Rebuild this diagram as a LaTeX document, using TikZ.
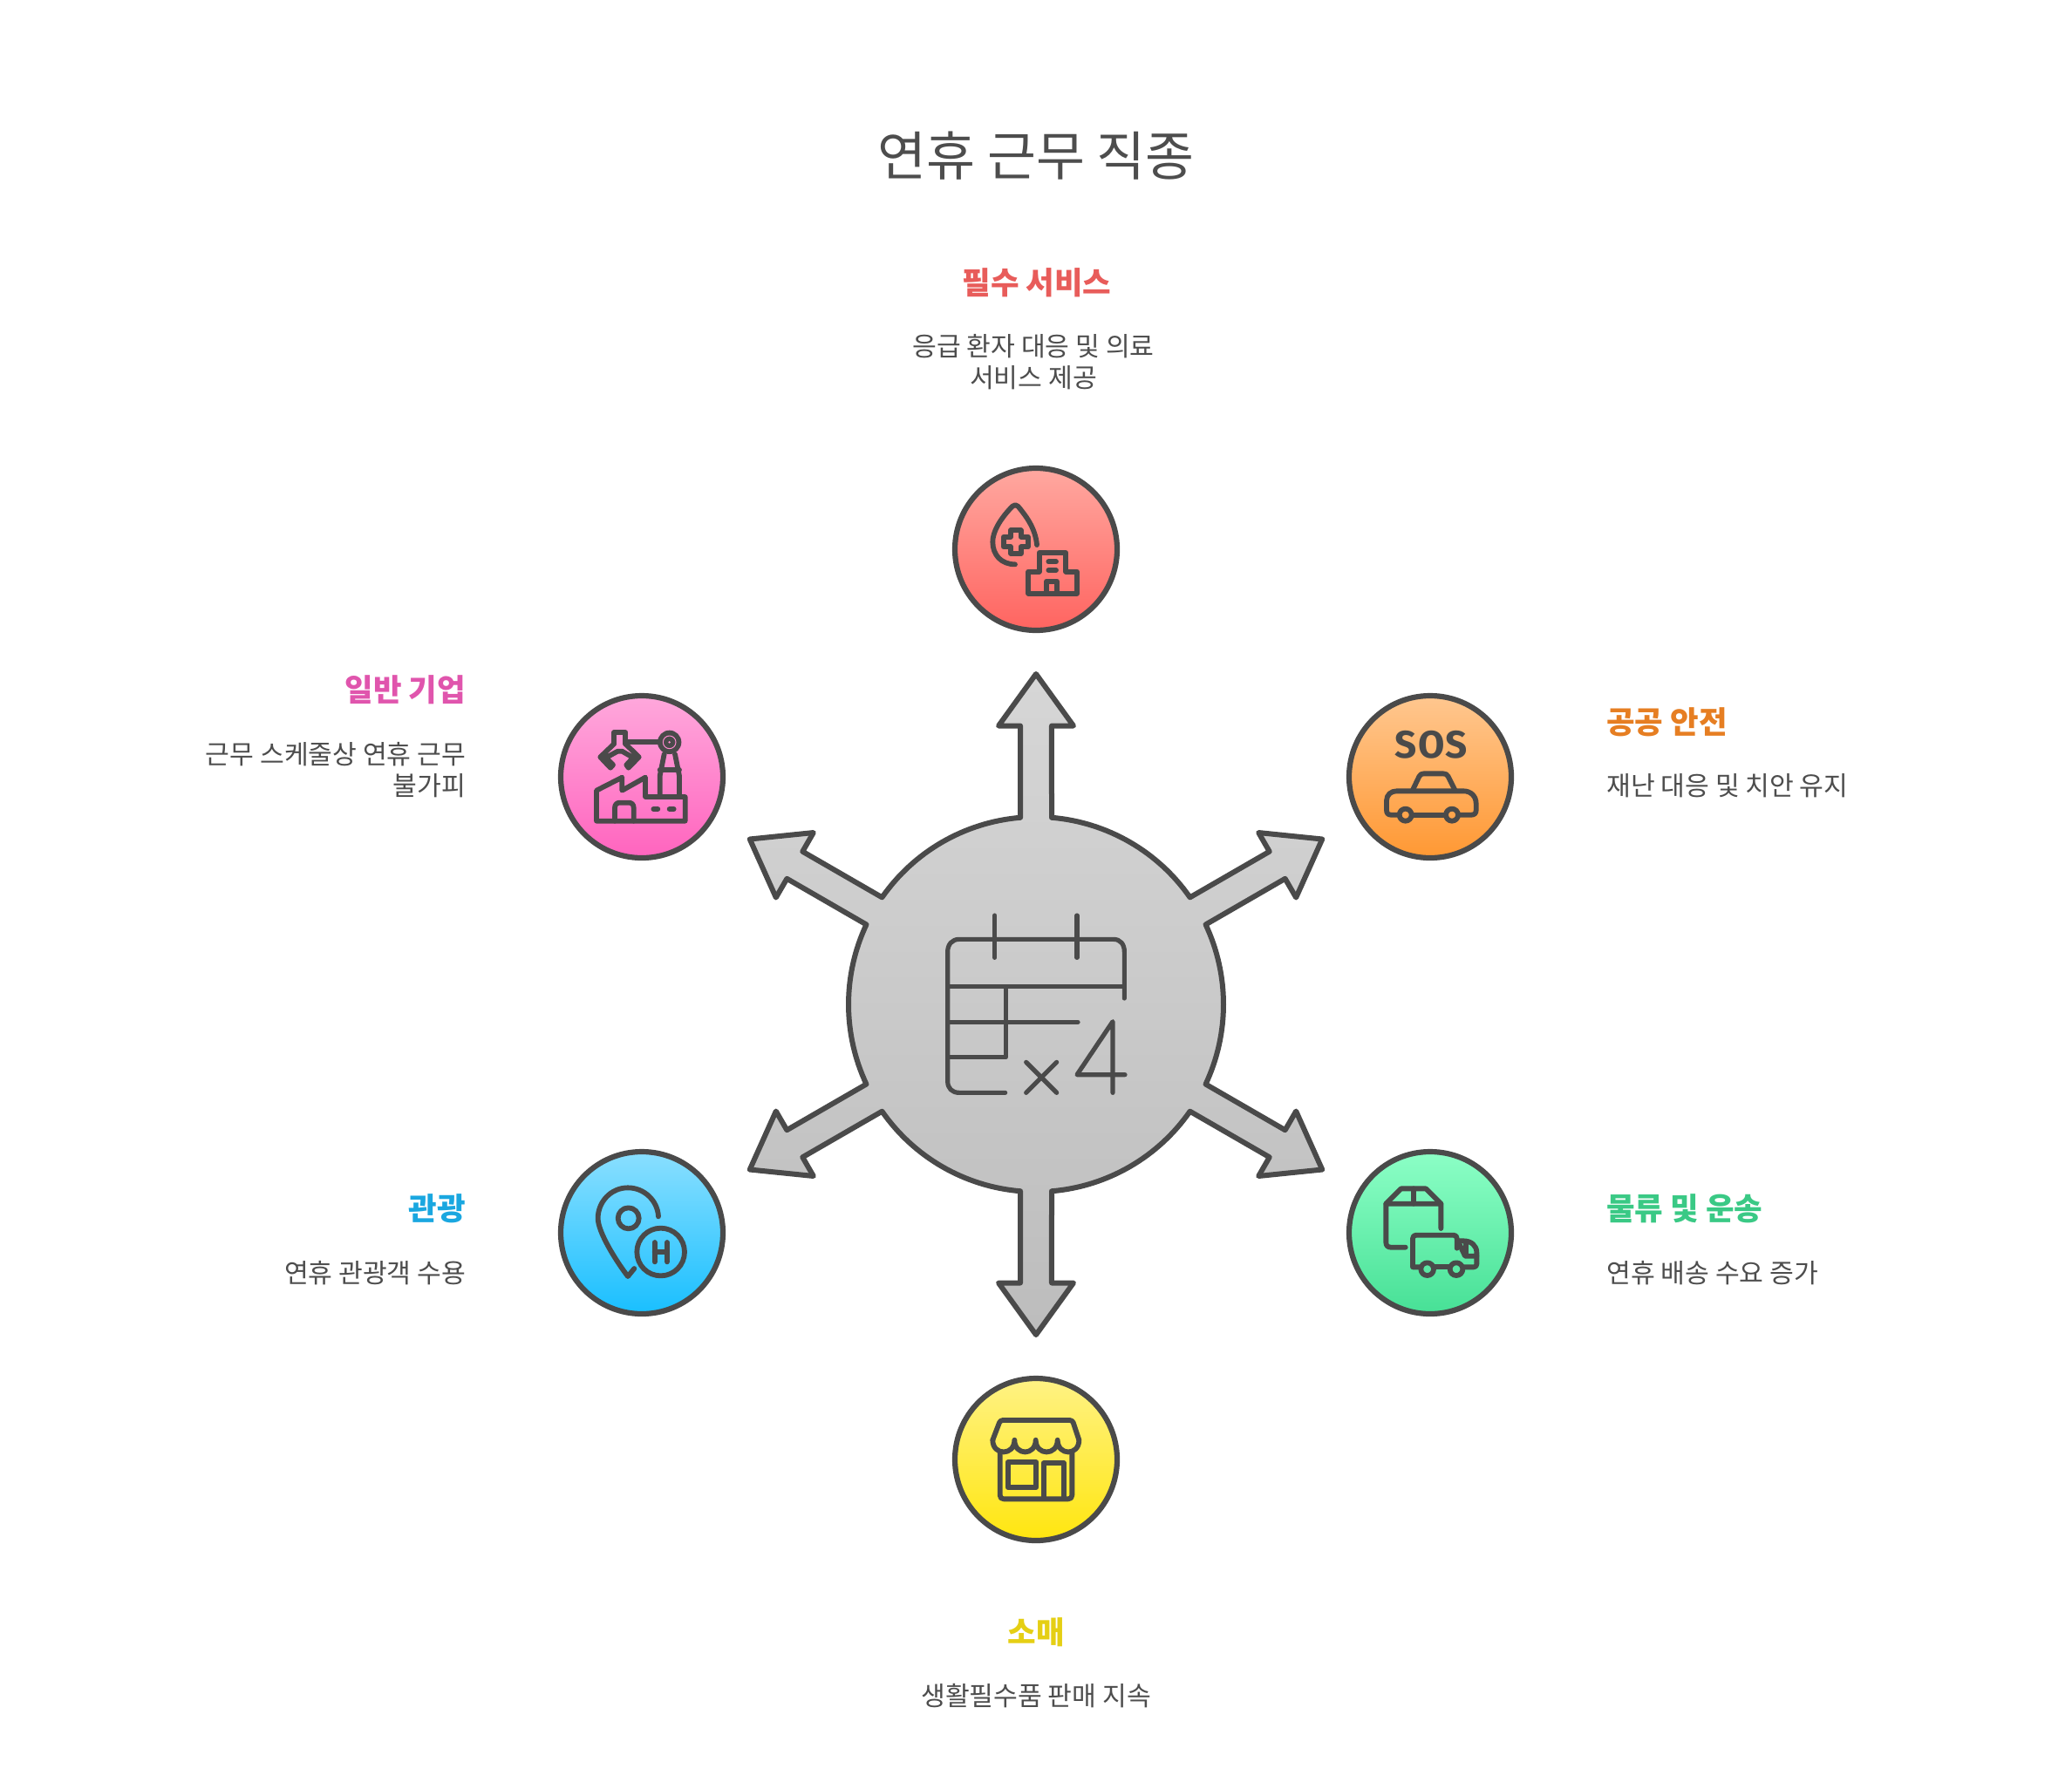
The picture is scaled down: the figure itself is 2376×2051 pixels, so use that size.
\documentclass[tikz,border=0pt]{standalone}
\usepackage{fontspec}
\setmainfont{Noto Sans CJK KR}
\newfontfamily\sosfont[LetterSpace=3]{Fira Sans}
\definecolor{ink}{HTML}{4A4A4A}
\definecolor{txt}{HTML}{4D4D4D}
\definecolor{redA}{HTML}{FFA8A0}\definecolor{redB}{HTML}{FF6460}
\definecolor{oraA}{HTML}{FFC78F}\definecolor{oraB}{HTML}{FF9833}
\definecolor{pnkA}{HTML}{FFA8DC}\definecolor{pnkB}{HTML}{FF64BE}
\definecolor{bluA}{HTML}{8ADFFF}\definecolor{bluB}{HTML}{19BFFF}
\definecolor{grnA}{HTML}{8CFFC6}\definecolor{grnB}{HTML}{47E096}
\definecolor{yelA}{HTML}{FFF284}\definecolor{yelB}{HTML}{FFE60F}
\definecolor{redH}{HTML}{E85C5A}
\definecolor{oraH}{HTML}{E67E22}
\definecolor{pnkH}{HTML}{E055AD}
\definecolor{bluH}{HTML}{1AA7E0}
\definecolor{grnH}{HTML}{3AC985}
\definecolor{yelH}{HTML}{E5CF14}
\definecolor{pnkL}{HTML}{FF8ACF}
\tikzset{
  ball/.style n args={2}{circle,inner sep=0pt,minimum size=93pt,draw=ink,line width=3.1pt,top color=#1,bottom color=#2},
  headtxt/.style={inner sep=0pt,font=\fontsize{17.7}{22}\selectfont\bfseries},
  bodytxt/.style={inner sep=0pt,text=txt,font=\fontsize{15.1}{18}\selectfont},
  iconframe/.style n args={2}{shift={(#1,#2)},x=0.16667pt,y=-0.16667pt},
  icl/.style={draw=ink,line width=2.9pt,line cap=round,line join=round},
  icm/.style={draw=ink,line width=2.6pt,line cap=round,line join=round},
}
\begin{document}
\begin{tikzpicture}[x=0.5pt,y=-0.5pt]
\useasboundingbox (0,0) rectangle (2376,2051);
\fill[white] (0,0) rectangle (2376,2051);
\node[inner sep=0pt,text=txt,font=\fontsize{30.4}{36}\selectfont,anchor=base] (title) at (1188,201) {연휴 근무 직종};

% hub and arrows
\node[circle,inner sep=0pt,minimum size=215pt] (hub) at (1188,1152) {};
\begin{scope}[shift={(hub.center)},y=0.5pt]
\shadedraw[draw=ink,line width=3pt,line join=round,top color=black!16,bottom color=black!26]
  (85.2:215)
  \foreach \a in {90,150,210,270,330,390} {
    -- (\a-4.8:215) -- (\a-3.22:320) -- (\a-7.66:322.4) -- (\a:379)
    -- (\a+7.66:322.4) -- (\a+3.22:320) -- (\a+4.8:215)
    arc[start angle=\a+4.8,delta angle=50.4,radius=215]
  } -- cycle;
\end{scope}

% satellites
\node[ball={redA}{redB}] (ess) at (1188,630) {};
\node[ball={oraA}{oraB}] (pub) at (1640,891) {};
\node[ball={pnkA}{pnkB}] (gen) at (736,891) {};
\node[ball={bluA}{bluB}] (tou) at (736,1414) {};
\node[ball={grnA}{grnB}] (log) at (1640,1414) {};
\node[ball={yelA}{yelB}] (ret) at (1188,1674) {};

% labels
\node[headtxt,text=redH,anchor=base] (essh) at (1189,337) {필수 서비스};
\node[bodytxt,align=center,anchor=base] (essb) at (1185,444) {응급 환자 대응 및 의료\\서비스 제공};
\node[headtxt,text=oraH,anchor=base west] (pubh) at (1842,841) {공공 안전};
\node[bodytxt,anchor=base west] (pubb) at (1842,912) {재난 대응 및 치안 유지};
\node[headtxt,text=pnkH,anchor=base east] (genh) at (534.5,804) {일반 기업};
\node[bodytxt,align=right,anchor=base east] (genb) at (534.5,912) {근무 스케줄상 연휴 근무\\불가피};
\node[headtxt,text=bluH,anchor=base east] (touh) at (534.5,1399) {관광};
\node[bodytxt,anchor=base east] (toub) at (534.5,1471) {연휴 관광객 수용};
\node[headtxt,text=grnH,anchor=base west] (logh) at (1842,1399) {물류 및 운송};
\node[bodytxt,anchor=base west] (logb) at (1842,1471) {연휴 배송 수요 증가};
\node[headtxt,text=yelH,anchor=base] (reth) at (1188,1885) {소매};
\node[bodytxt,anchor=base] (retb) at (1188,1956) {생활필수품 판매 지속};

% main calendar icon
\begin{scope}[iconframe={950}{900}]
\draw[icm] (1018,735) -- (1018,575) .. controls (1018,550) and (1005,532) .. (980,532) -- (450,532)
  .. controls (425,532) and (410,550) .. (410,575) -- (410,1020)
  .. controls (410,1045) and (425,1060) .. (450,1060) -- (608,1060);
\draw[icm] (572,450) -- (572,595);
\draw[icm] (855,450) -- (855,595);
\draw[icm] (410,695) -- (1018,695);
\draw[icm] (610,695) -- (610,938) -- (410,938);
\draw[icm] (410,817) -- (858,817);
\draw[icm] (680,955) -- (785,1060);
\draw[icm] (785,955) -- (680,1060);
\draw[icm] (978,1060) -- (978,815) -- (855,998) -- (1020,998);
\end{scope}

% red icon
\begin{scope}[iconframe={1080}{520}]
\draw[icl] (252,382) .. controls (205,382) and (175,350) .. (175,305) .. controls (175,255) and (225,200) .. (243,182)
  .. controls (250,176) and (256,176) .. (262,182) .. controls (285,210) and (322,255) .. (327,315);
\draw[icl] (237,265) -- (272,265) -- (272,287) -- (296,287) -- (296,322) -- (272,322) -- (272,345) -- (237,345) -- (237,322) -- (212,322) -- (212,287) -- (237,287) -- cycle;
\draw[icl] (298,482) -- (298,407) -- (335,407) -- (335,342) -- (427,342) -- (427,407) -- (465,407) -- (465,482) -- cycle;
\draw[icl] (360,482) -- (360,440) -- (396,440) -- (396,482);
\draw[icl] (367,373) -- (393,373);
\draw[icl] (367,402) -- (393,402);
\end{scope}

% orange icon
\begin{scope}[iconframe={1540}{790}]
\node[inner sep=0pt,text=ink,font=\sosfont\fontsize{22}{26}\selectfont\bfseries,anchor=base] (sos) at (304,237) {SOS};
\draw[icl] (190,434) -- (165,434) .. controls (155,434) and (150,428) .. (150,418) -- (150,385)
  .. controls (150,365) and (165,352) .. (185,352) -- (415,352) .. controls (440,352) and (458,370) .. (458,395)
  -- (458,418) .. controls (458,428) and (452,434) .. (442,434) -- (402,434);
\draw[icl] (240,434) -- (350,434);
\draw[icl] (215,434) circle[radius=21];
\draw[icl] (375,434) circle[radius=21];
\draw[icl] (240,348) -- (262,302) .. controls (266,295) and (270,292) .. (278,292) -- (345,292) .. controls (353,292) and (358,295) .. (362,302) -- (385,348);
\end{scope}

% pink icon
\begin{scope}[iconframe={630}{790}]
\fill[ink] (413,184) circle[radius=41];
\draw[pnkL,line width=0.5pt] (413,184) circle[radius=22];
\fill[pnkL] (413,184) circle[radius=4];
\draw[icl] (265,182) -- (380,182);
\draw[icl] (222,190) -- (222,150) -- (262,150) -- (262,190);
\draw[icl] (222,190) -- (175,235) -- (210,272) -- (219,262) -- (195,237) -- (235,215) -- (250,215) -- (288,237) -- (265,262) -- (272,272) -- (308,235) -- (262,190);
\draw[icl] (395,225) -- (380,300) -- (380,372);
\draw[icl] (432,225) -- (447,300) -- (447,372);
\draw[icl] (380,280) -- (447,280);
\draw[icl] (162,455) -- (162,350) -- (250,305) -- (250,350) -- (330,305) -- (330,372) -- (467,372) -- (467,455) -- cycle;
\draw[icl] (225,455) -- (225,410) .. controls (225,398) and (232,392) .. (242,392) -- (273,392) .. controls (283,392) and (290,398) .. (290,410) -- (290,455);
\draw[icl] (358,414) -- (373,414);
\draw[icl] (413,414) -- (428,414);
\end{scope}

% blue icon
\begin{scope}[iconframe={630}{1310}]
\draw[icl] (375,256) .. controls (372,200) and (325,157) .. (270,157) .. controls (212,157) and (167,205) .. (167,262)
  .. controls (167,310) and (230,410) .. (270,462) -- (292,435);
\draw[icl] (272,262) circle[radius=36];
\draw[icl] (383,378) circle[radius=82];
\draw[icl] (362,345) -- (362,412);
\draw[icl] (405,345) -- (405,412);
\draw[icl] (362,378) -- (405,378);
\end{scope}

% green icon
\begin{scope}[iconframe={1540}{1310}]
\draw[icl] (337,297) -- (337,212) -- (148,212) -- (148,345) .. controls (148,356) and (154,362) .. (165,362) -- (215,362);
\draw[icl] (148,212) -- (200,160) -- (285,160) -- (337,212);
\draw[icl] (243,160) -- (243,212);
\draw[icl] (265,430) -- (240,430) -- (240,332) .. controls (240,324) and (244,320) .. (252,320) -- (380,320) .. controls (388,320) and (392,324) .. (392,332) -- (392,365);
\draw[icl] (312,430) -- (365,430);
\draw[icl] (415,430) -- (450,430) .. controls (456,430) and (460,426) .. (460,420) -- (460,380) .. controls (460,355) and (440,340) .. (415,340) -- (395,340);
\draw[icl] (400,350) -- (420,392) -- (460,392);
\draw[icl] (424,345) -- (424,385);
\draw[icl] (290,437) circle[radius=22];
\draw[icl] (390,437) circle[radius=22];
\end{scope}

% yellow icon
\begin{scope}[iconframe={1080}{1570}]
\draw[icl] (175,245) -- (198,185) .. controls (200,180) and (205,177) .. (210,177) -- (440,177) .. controls (445,177) and (450,180) .. (452,185) -- (472,245);
\draw[icl] (175,245) .. controls (175,300) and (250,300) .. (250,245)
  .. controls (250,300) and (323,300) .. (323,245)
  .. controls (323,300) and (398,300) .. (398,245)
  .. controls (398,300) and (472,300) .. (472,245);
\draw[icl] (200,285) -- (200,435) .. controls (200,443) and (205,448) .. (213,448) -- (435,448) .. controls (443,448) and (448,443) .. (448,435) -- (448,285);
\draw[icl] (227,322) -- (325,322) -- (325,408) -- (227,408) -- cycle;
\draw[icl] (350,445) -- (350,325) -- (420,325) -- (420,445);
\end{scope}
\end{tikzpicture}
\end{document}
